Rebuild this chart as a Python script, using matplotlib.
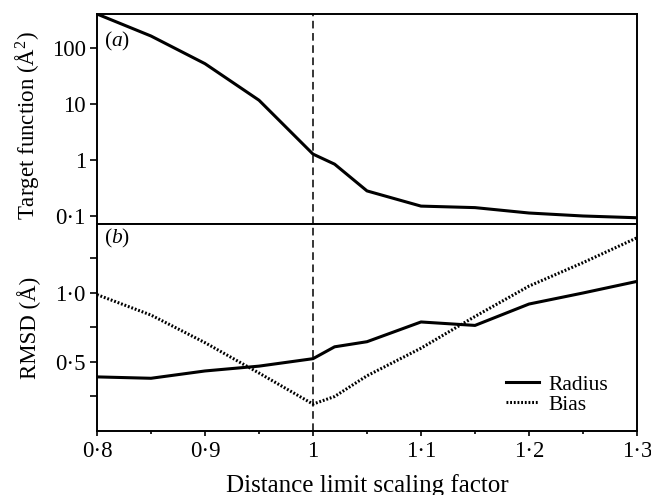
import matplotlib
matplotlib.use('Agg')
import matplotlib.pyplot as plt
from matplotlib.ticker import FixedLocator, FuncFormatter

# scaling factor grid and results
scale = [0.8, 0.85, 0.9, 0.95, 1.0, 1.02, 1.05, 1.1, 1.15, 1.2, 1.25, 1.3]
target = [400, 162, 52, 11.6, 1.27, 0.84, 0.28, 0.15, 0.141, 0.113, 0.10, 0.093]
radius = [0.392, 0.382, 0.435, 0.47, 0.524, 0.61, 0.647, 0.79, 0.765, 0.92, 1.0, 1.084]
bias = [0.988, 0.84, 0.64, 0.42, 0.195, 0.25, 0.40, 0.60, 0.83, 1.05, 1.22, 1.40]

x_major = [0.8, 0.9, 1.0, 1.1, 1.2, 1.3]
x_minor = [0.85, 0.95, 1.05, 1.15, 1.25]
top_ticks = [0.1, 1, 10, 100]
rmsd_major = [0.5, 1.0]
rmsd_minor = [0.25, 0.75, 1.25]

plt.rcParams['font.family'] = ['Liberation Serif', 'DejaVu Serif']
plt.rcParams['mathtext.fontset'] = 'custom'
plt.rcParams['mathtext.rm'] = 'Liberation Serif'
plt.rcParams['mathtext.it'] = 'Liberation Serif:italic'
plt.rcParams['font.size'] = 16.5


def dot_fmt(v, pos):
    # whole numbers stay bare, decimals get a raised dot
    if abs(v - round(v)) < 1e-9 and v >= 1:
        s = '%d' % round(v)
    else:
        s = '%.1f' % v
    return s.replace('.', '\u00b7')


def dot_fmt1(v, pos):
    return ('%.1f' % v).replace('.', '\u00b7')


fig = plt.figure(figsize=(6.51, 4.95), dpi=100)
ax1 = fig.add_axes([0.149, 0.5475, 0.8295, 0.4242])
ax2 = fig.add_axes([0.149, 0.1293, 0.8295, 0.4182], sharex=ax1)

ax1.plot(scale, target, color='black', lw=2.2)
ax1.set_yscale('log')
ax1.set_ylim(0.072, 400)
ax1.yaxis.set_major_locator(FixedLocator(top_ticks))
ax1.yaxis.set_minor_locator(FixedLocator([]))
ax1.yaxis.set_major_formatter(FuncFormatter(dot_fmt))
ax1.set_ylabel('Target function (Å$^2$)')
ax1.yaxis.set_label_coords(-0.104, 0.47)
ax1.text(0.013, 0.925, '($a$)', transform=ax1.transAxes, va='top', ha='left',
         fontsize=15.5)

ax2.plot(scale, radius, color='black', lw=2.2, label='Radius')
ax2.plot(scale, bias, color='black', lw=2.2, linestyle=(0, (0.6, 0.6)), label='Bias')
ax2.set_ylim(0, 1.5)
ax2.yaxis.set_major_locator(FixedLocator(rmsd_major))
ax2.yaxis.set_minor_locator(FixedLocator(rmsd_minor))
ax2.yaxis.set_major_formatter(FuncFormatter(dot_fmt1))
ax2.set_ylabel('RMSD (Å)')
ax2.yaxis.set_label_coords(-0.104, 0.5)
ax2.text(0.013, 0.985, '($b$)', transform=ax2.transAxes, va='top', ha='left',
         fontsize=15.5)

ax2.set_xlim(0.8, 1.3)
ax2.xaxis.set_major_locator(FixedLocator(x_major))
ax2.xaxis.set_minor_locator(FixedLocator(x_minor))
ax2.xaxis.set_major_formatter(FuncFormatter(dot_fmt))
ax2.set_xlabel('Distance limit scaling factor', fontsize=18, labelpad=8)

for ax in (ax1, ax2):
    ax.axvline(1.0, color='black', lw=1.1, dashes=(5, 3))
    for s in ax.spines.values():
        s.set_linewidth(1.4)
    ax.tick_params(axis='y', which='both', direction='out', length=5, width=1.2, pad=3)
    ax.tick_params(axis='x', which='major', direction='out', length=3.5, width=1.2, pad=4)
    ax.tick_params(axis='x', which='minor', direction='out', length=2.2, width=1.2)
ax1.tick_params(axis='x', labelbottom=False)

leg = ax2.legend(loc='lower right', bbox_to_anchor=(0.967, 0.027), frameon=False,
                 handlelength=1.55, handletextpad=0.45, labelspacing=0.0,
                 borderpad=0, fontsize=15.5)

fig.savefig('out.png', dpi=100)
